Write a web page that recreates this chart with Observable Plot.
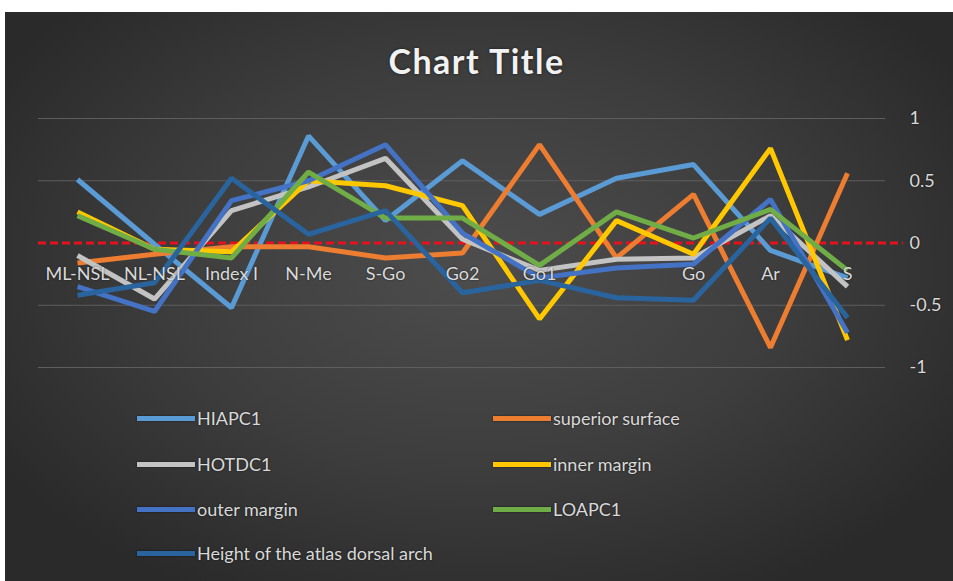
<!DOCTYPE html>
<html>
<head>
<meta charset="utf-8">
<script src="https://cdn.jsdelivr.net/npm/d3@7"></script>
<script src="https://cdn.jsdelivr.net/npm/@observablehq/plot@0.6"></script>
<style>
  html, body { margin: 0; padding: 0; background: #ffffff; }
  body { width: 953px; height: 581px; position: relative; overflow: hidden; font-family: Lato, "Open Sans", sans-serif; }
  #card {
    position: absolute; left: 5px; top: 12px; width: 948px; height: 569px;
    background: radial-gradient(ellipse 60% 65% at 50% 45%, #4d4d4d 0%, #3d3d3d 55%, #2a2a2a 100%);
  }
  #title {
    position: absolute; left: 0; width: 953px; top: 40px; text-align: center;
    font-family: Lato, sans-serif; font-weight: 700; font-size: 34px; letter-spacing: 1.5px;
    color: #f2f2f2; text-shadow: 0 0 3px rgba(0,0,0,0.6);
  }
  #chart { position: absolute; left: 0; top: 90px; }
  .legend-item { position: absolute; display: flex; align-items: center; height: 24px;
    font-family: Lato, sans-serif; font-size: 18px; color: #d9d9d9; text-shadow: 0 0 2px rgba(0,0,0,0.6); }
  .legend-item .sw { width: 58px; height: 5px; margin-right: 2px; box-shadow: 0 0 2px rgba(0,0,0,0.7); }
</style>
</head>
<body>
<div id="card"></div>
<div id="title">Chart Title</div>
<div id="chart"></div>
<div id="legend"></div>
<script>
// Measurement categories along the x axis (the eighth one has no label)
const categories = ["ML-NSL", "NL-NSL", "Index I", "N-Me", "S-Go", "Go2", "Go1", "", "Go", "Ar", "S"];

// Series names, in drawing order
const seriesNames = ["HIAPC1", "superior surface", "HOTDC1", "inner margin", "outer margin", "LOAPC1", "Height of the atlas dorsal arch"];
const seriesColors = ["#5b9bd5", "#ed7d31", "#c3c3c3", "#ffc800", "#4472c4", "#70ad47", "#2a649e"];

// Values per series, one per category
const HIAPC1          = [0.51, -0.01, -0.52, 0.86, 0.18, 0.66, 0.23, 0.52, 0.63, -0.06, -0.28];
const superiorSurface = [-0.16, -0.09, -0.03, -0.03, -0.12, -0.08, 0.79, -0.12, 0.39, -0.84, 0.56];
const HOTDC1          = [-0.10, -0.45, 0.26, 0.45, 0.68, 0.03, -0.22, -0.13, -0.12, 0.22, -0.35];
const innerMargin     = [0.25, -0.05, -0.07, 0.50, 0.46, 0.30, -0.61, 0.18, -0.09, 0.76, -0.78];
const outerMargin     = [-0.35, -0.55, 0.34, 0.50, 0.79, 0.08, -0.28, -0.20, -0.17, 0.35, -0.72];
const LOAPC1          = [0.22, -0.05, -0.12, 0.57, 0.20, 0.20, -0.18, 0.25, 0.04, 0.27, -0.22];
const atlasArch       = [-0.42, -0.32, 0.52, 0.07, 0.26, -0.40, -0.30, -0.44, -0.46, 0.20, -0.60];

// Y axis ticks
const yTicks = [-1, -0.5, 0, 0.5, 1];

const seriesValues = [HIAPC1, superiorSurface, HOTDC1, innerMargin, outerMargin, LOAPC1, atlasArch];
const rows = seriesValues.flatMap((vals, s) =>
  vals.map((v, i) => ({ i, value: v, series: seriesNames[s] })));
const idx = categories.map((_, i) => i);

const chart = Plot.plot({
  width: 953,
  height: 300,
  marginLeft: 38,
  marginRight: 68,
  marginTop: 28,
  marginBottom: 23,
  style: { background: "transparent", fontFamily: "Lato, sans-serif", color: "#d9d9d9", overflow: "visible" },
  x: { type: "point", domain: idx, padding: 0.5, axis: null },
  y: { domain: [-1, 1], axis: null, label: null },
  color: { domain: seriesNames, range: seriesColors },
  marks: [
    Plot.ruleY(yTicks.filter(d => d !== 0), { stroke: "#5e5e5e", strokeWidth: 1.2 }),
    Plot.ruleY([0], { stroke: "#e3121c", strokeWidth: 3, strokeDasharray: "8,4", insetRight: -18 }),
    Plot.line(rows, {
      x: "i", y: "value", z: "series", stroke: "series",
      strokeWidth: 5, strokeLinejoin: "miter", strokeLinecap: "butt",
      style: "filter: drop-shadow(0 0 1.5px rgba(0,0,0,0.85))"
    }),
    Plot.axisY({
      anchor: "right", ticks: yTicks, tickSize: 0, tickPadding: 24, label: null,
      tickFormat: d => String(d), fontSize: 18, fill: "#d9d9d9"
    }),
    Plot.text(categories, {
      x: idx, y: () => 0, dy: 31, text: d => d,
      fill: "#d9d9d9", fontSize: 18
    })
  ]
});
chart.querySelectorAll("text").forEach(t => t.style.textShadow = "0 0 2px rgba(0,0,0,0.6)");
document.getElementById("chart").appendChild(chart);

// Legend in two columns
const legend = document.getElementById("legend");
const legendPos = [
  [137, 418], [493, 418],
  [137, 464], [493, 464],
  [137, 509], [493, 509],
  [137, 553]
];
seriesNames.forEach((name, k) => {
  const item = document.createElement("div");
  item.className = "legend-item";
  item.style.left = legendPos[k][0] + "px";
  item.style.top = (legendPos[k][1] - 12) + "px";
  const sw = document.createElement("div");
  sw.className = "sw";
  sw.style.background = seriesColors[k];
  const label = document.createElement("span");
  label.textContent = name;
  item.appendChild(sw);
  item.appendChild(label);
  legend.appendChild(item);
});
</script>
</body>
</html>
